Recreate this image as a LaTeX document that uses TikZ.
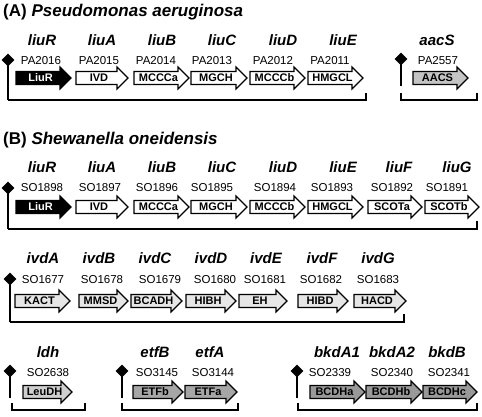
\documentclass[tikz,border=0pt]{standalone}
\usepackage{fontspec}
\setmainfont{Liberation Sans}
\usetikzlibrary{shapes.geometric}
\definecolor{aacsgray}{HTML}{C4C4C4}
\definecolor{ivdgray}{HTML}{E6E6E6}
\definecolor{leugray}{HTML}{CFCFCF}
\definecolor{etfgray}{HTML}{A6A6A6}
\definecolor{bkdgray}{HTML}{999999}
\newcommand{\gn}[7]{%
  \draw[gbody, fill=#5] (#2,{#4-6.5}) -- ({#3-11},{#4-6.5}) -- ({#3-11},{#4-11}) -- (#3,#4) -- ({#3-11},{#4+11}) -- ({#3-11},{#4+6.5}) -- (#2,{#4+6.5}) -- cycle;
  \node[glabel, text=#6] (#1) at ({(#2+#3)/2-3},{#4+3.9}) {#7};}
\begin{document}
\begin{tikzpicture}[x=1pt,y=-1pt,
  title/.style={anchor=base west, inner sep=0, font=\fontsize{17}{19}\selectfont\bfseries},
  gname/.style={anchor=base, inner sep=0, font=\fontsize{15}{17}\selectfont\bfseries\itshape},
  gnum/.style={anchor=base, inner sep=0, font=\fontsize{11.5}{13}\selectfont},
  glabel/.style={anchor=base, inner sep=0, font=\fontsize{11}{12}\selectfont\bfseries},
  gbody/.style={draw=black, line width=1.1pt, line join=miter},
  prom/.style={diamond, fill=black, draw=none, minimum size=13pt, inner sep=0},
  stemline/.style={line width=2pt},
  bracketline/.style={line width=2pt}]
\useasboundingbox (0,0) rectangle (482,416);
\fill[white] (0,0) rectangle (482,416);

% ---------- (A)
\node[title] (tA) at (3,16) {(A) \textit{Pseudomonas aeruginosa}};
\foreach \nm/\x in {liuR/42,liuA/102,liuB/162,liuC/222,liuD/283,liuE/343,aacS/437}
  \node[gname] (nA\nm) at (\x,45.5) {\nm};
\foreach \nm/\x in {PA2016/41,PA2015/99,PA2014/156,PA2013/212,PA2012/273,PA2011/330,PA2557/438}
  \node[gnum] (uA\nm) at (\x,64.5) {\nm};
\gn{aR}{16}{71}{78}{black}{white}{LiuR}
\gn{aA}{76}{128}{78}{white}{black}{IVD}
\gn{aB}{134}{189}{78}{white}{black}{MCCCa}
\gn{aC}{191}{247}{78}{white}{black}{MGCH}
\gn{aD}{250}{305}{78}{white}{black}{MCCCb}
\gn{aE}{308}{363}{78}{white}{black}{HMGCL}
\gn{aS}{413}{468}{78}{aacsgray}{black}{AACS}
\node[prom] (pA) at (8,60) {};
\coordinate (bA1) at (8,100);
\coordinate (bA2) at (366,100);
\coordinate (bA3) at (366,93);
\draw[stemline] (pA.center) -- (bA1);
\draw[bracketline] (bA1) -- (bA2) -- (bA3);
\node[prom] (pS) at (401,59) {};
\coordinate (sS) at (401,86);
\draw[stemline] (pS.center) -- (sS);
\coordinate (bS0) at (401,93);
\coordinate (bS1) at (401,100);
\coordinate (bS2) at (477,100);
\coordinate (bS3) at (477,93);
\draw[bracketline] (bS0) -- (bS1) -- (bS2) -- (bS3);

% ---------- (B)
\node[title] (tB) at (3,144) {(B) \textit{Shewanella oneidensis}};
\foreach \nm/\x in {liuR/42,liuA/102,liuB/162,liuC/222,liuD/283,liuE/343,liuF/399,liuG/457}
  \node[gname] (nB\nm) at (\x,172.5) {\nm};
\foreach \nm/\x in {SO1898/42,SO1897/100,SO1896/157,SO1895/212,SO1894/275,SO1893/332,SO1892/392,SO1891/447}
  \node[gnum] (uB\nm) at (\x,191.5) {\nm};
\gn{bR}{16}{71}{207}{black}{white}{LiuR}
\gn{bA}{76}{128}{207}{white}{black}{IVD}
\gn{bB}{134}{189}{207}{white}{black}{MCCCa}
\gn{bC}{191}{247}{207}{white}{black}{MGCH}
\gn{bD}{250}{305}{207}{white}{black}{MCCCb}
\gn{bE}{308}{363}{207}{white}{black}{HMGCL}
\gn{bF}{368}{422}{207}{white}{black}{SCOTa}
\gn{bG}{425}{479}{207}{white}{black}{SCOTb}
\node[prom] (pB) at (8,188) {};
\coordinate (bB1) at (8,229);
\coordinate (bB2) at (477,229);
\coordinate (bB3) at (477,221);
\draw[stemline] (pB.center) -- (bB1);
\draw[bracketline] (bB1) -- (bB2) -- (bB3);

% ---------- ivd
\foreach \nm/\x in {ivdA/43,ivdB/99,ivdC/155,ivdD/211,ivdE/266,ivdF/322,ivdG/378}
  \node[gname] (nC\nm) at (\x,263.5) {\nm};
\foreach \nm/\x in {SO1677/43,SO1678/102,SO1679/160,SO1680/215,SO1681/265,SO1682/321,SO1683/378}
  \node[gnum] (uC\nm) at (\x,283.5) {\nm};
\gn{cA}{15}{70}{301}{ivdgray}{black}{KACT}
\gn{cB}{79}{128}{301}{ivdgray}{black}{MMSD}
\gn{cC}{131}{182}{301}{ivdgray}{black}{BCADH}
\gn{cD}{186}{236}{301}{ivdgray}{black}{HIBH}
\gn{cE}{239}{287}{301}{ivdgray}{black}{EH}
\gn{cF}{298}{348}{301}{ivdgray}{black}{HIBD}
\gn{cG}{354}{406}{301}{ivdgray}{black}{HACD}
\node[prom] (pC) at (10,279) {};
\coordinate (bC1) at (10,322);
\coordinate (bC2) at (404,322);
\coordinate (bC3) at (404,314);
\draw[stemline] (pC.center) -- (bC1);
\draw[bracketline] (bC1) -- (bC2) -- (bC3);

% ---------- bottom row
\foreach \nm/\x in {ldh/48,etfB/155,etfA/210,bkdA1/337,bkdA2/392,bkdB/447}
  \node[gname] (nD\nm) at (\x,357.5) {\nm};
\foreach \nm/\x in {SO2638/48,SO3145/157,SO3144/213,SO2339/330,SO2340/392,SO2341/449}
  \node[gnum] (uD\nm) at (\x,376) {\nm};
\gn{dL}{23}{72}{392}{leugray}{black}{LeuDH}
\gn{dE1}{133}{183}{392}{etfgray}{black}{ETFb}
\gn{dE2}{185}{237}{392}{etfgray}{black}{ETFa}
\gn{dB1}{310}{365}{392}{bkdgray}{black}{BCDHa}
\gn{dB2}{366}{422}{392}{bkdgray}{black}{BCDHb}
\gn{dB3}{423}{477}{392}{bkdgray}{black}{BCDHc}
\foreach \p/\x/\l/\r in {pL/10/12/85, pE/122/122/238, pK/297/298/477}{
  \node[prom] (\p) at (\x,371) {};
  \coordinate (\p s) at (\x,398);
  \draw[stemline] (\p.center) -- (\p s);
  \coordinate (\p a) at (\l,403);
  \coordinate (\p b) at (\l,410);
  \coordinate (\p c) at (\r,410);
  \coordinate (\p d) at (\r,403);
  \draw[bracketline] (\p a) -- (\p b) -- (\p c) -- (\p d);
}
\end{tikzpicture}
\end{document}
